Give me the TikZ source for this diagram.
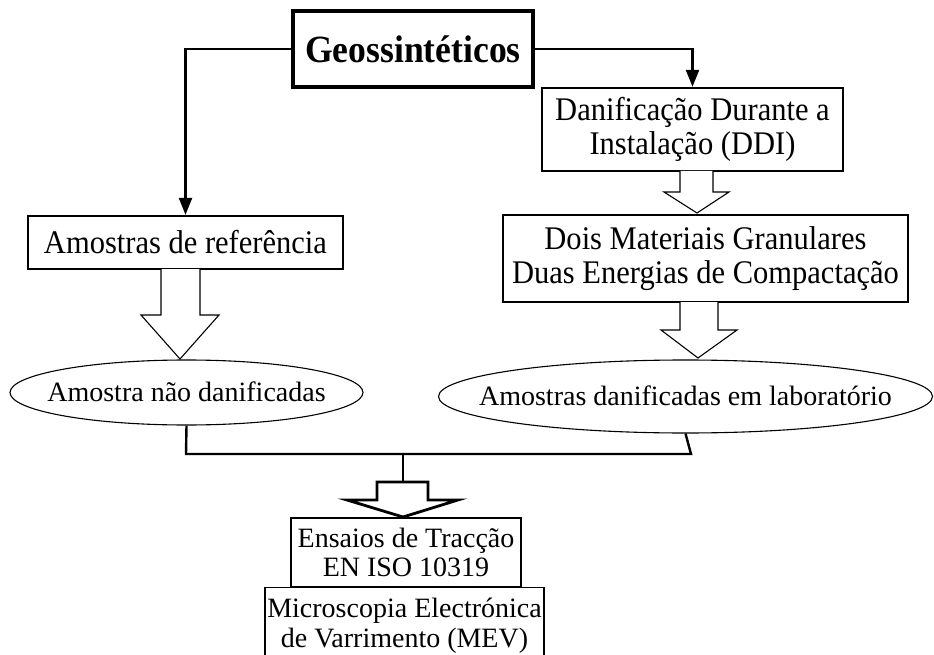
\documentclass[tikz,border=0pt]{standalone}
\usepackage{fontspec}
\setmainfont{Liberation Serif}
\newfontfamily\narrowserif[FakeStretch=0.925]{Liberation Serif}
\usetikzlibrary{arrows.meta,shapes.geometric}
\begin{document}
\begin{tikzpicture}[x=1pt,y=-1pt,
  boxa/.style={draw, line width=2.4pt, inner sep=0pt, align=center, font=\narrowserif\fontsize{33}{34}\selectfont},
  boxb/.style={draw, line width=1.1pt, inner sep=0pt, align=center, font=\fontsize{28}{29.5}\selectfont},
  ell/.style={draw, ellipse, line width=1.1pt, inner sep=0pt},
  elltext/.style={inner sep=0pt, font=\fontsize{28}{30}\selectfont},
  conn/.style={line width=2.4pt, line join=miter},
  arr/.style={conn, -{Triangle[length=17pt,width=13pt]}},
  hollow/.style={line width=1.1pt, fill=white, line join=miter},
  hollowthick/.style={line width=2.8pt, fill=white, line join=miter}]
\useasboundingbox (0,0) rectangle (934,655);

\node[draw, line width=3.4pt, inner sep=0pt, minimum width=240pt, minimum height=76pt,
      font=\narrowserif\fontsize{38.5}{40}\selectfont\bfseries] (geo) at (413,49) {Geossintéticos};

\node[boxa, minimum width=315pt, minimum height=53pt] (ref) at (185.5,242.5) {Amostras de referência};
\node[boxa, minimum width=301pt, minimum height=83pt] (dan) at (692.5,129.5) {Danificação Durante a\\Instalação (DDI)};
\node[boxa, line width=2.8pt, minimum width=405pt, minimum height=87pt] (dois) at (705.5,258.5) {Dois Materiais Granulares\\Duas Energias de Compactação};

\node[ell, minimum width=353pt, minimum height=65pt] (ell1) at (186.5,392.5) {};
\node[elltext] (t1) at ([yshift=1pt]ell1.center) {Amostra não danificadas};
\node[ell, minimum width=494pt, minimum height=73pt] (ell2) at (685.5,396.5) {};
\node[elltext] (t2) at ([yshift=1pt]ell2.center) {Amostras danificadas em laboratório};

\node[boxb, minimum width=230pt, minimum height=69pt] (ens) at (406,552.5) {Ensaios de Tracção\\EN ISO 10319};
\node[boxb, minimum width=279pt, minimum height=76pt, anchor=north] (mev) at (404.5,587) {Microscopia Electrónica\\de Varrimento (MEV)};

% connectors from title
\draw[arr] (geo.west) -| (ref.north);
\draw[arr] (geo.east) -| (dan.north);

% hollow arrows
\draw[hollow] (161,269) -- (161,315) -- (141,315) -- (180,359) -- (219,315) -- (200,315) -- (200,269);
\draw[hollow] (680,171) -- (680,192) -- (664,192) -- (697,213) -- (729,192) -- (713,192) -- (713,171);
\draw[hollow] (680,302) -- (680,330) -- (661,330) -- (698,358) -- (737,330) -- (718,330) -- (718,302);

% merge lines
\coordinate (jl) at (186,454);
\coordinate (jr) at (691,454);
\coordinate (jc) at (403,454);
\draw[conn] (ell1.south) -- (jl) -- (jr) -- (ell2.south);
\draw[conn] (jc) -- (403,482);
\draw[hollowthick] (377,482) -- (428,482) -- (428,500) -- (458,500) -- (403,517) -- (347,500) -- (377,500) -- cycle;
\end{tikzpicture}
\end{document}
